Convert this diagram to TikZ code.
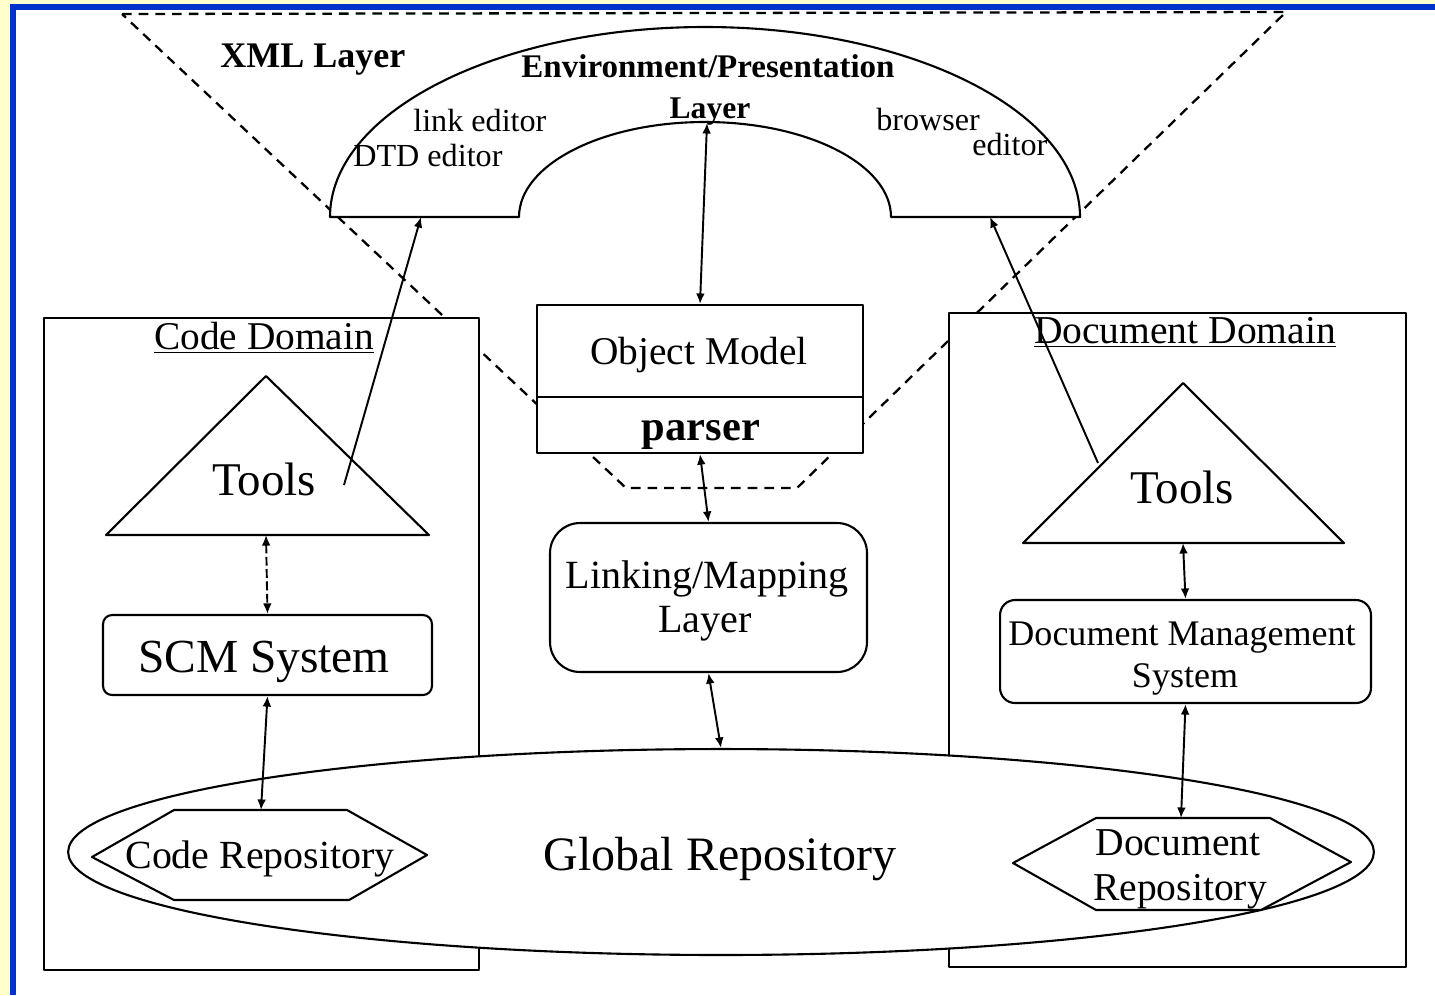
\documentclass[tikz,border=0pt]{standalone}
\usepackage{fontspec}
\setmainfont{Liberation Serif}
\usetikzlibrary{arrows.meta,shapes.geometric}
\definecolor{pagebg}{RGB}{255,255,204}
\definecolor{rimblue}{RGB}{0,51,204}

\begin{document}
\begin{tikzpicture}[x=0.02cm,y=-0.02cm,line join=round,
  outline/.style={draw=black,line width=1.2pt,fill=white},
  plainbox/.style={outline,rectangle,inner sep=0pt},
  roundbox/.style={outline,rectangle,inner sep=0pt,rounded corners=#1},
  twoway/.style={line width=1.1pt,{Latex[length=6pt,width=5pt]}-{Latex[length=6pt,width=5pt]}},
  oneway/.style={line width=1.1pt,-{Latex[length=6pt,width=5pt]}},
  funnel/.style={line width=1.3pt,dash pattern=on 5.5pt off 4pt},
  txt/.style={anchor=base,inner sep=0pt,font=\fontsize{#1}{#1}\selectfont},
  btxt/.style={anchor=base,inner sep=0pt,font=\fontsize{#1}{#1}\selectfont\bfseries},
  wtxt/.style={anchor=base west,inner sep=0pt,font=\fontsize{#1}{#1}\selectfont}
]
% page background and blue rim
\fill[pagebg] (0,0) rectangle (1435,995);
\fill[rimblue] (10,4) rectangle (1435,995);
\fill[white] (16,10) rectangle (1435,995);
\useasboundingbox (0,0) rectangle (1435,995);

% XML layer funnel
\draw[funnel] (122,14) -- (1286,12) -- (797,488) -- (626,488) -- cycle;

% environment / presentation arch
\draw[outline] (330,217) arc[start angle=180,end angle=360,x radius=375,y radius=190]
  -- (891,217) arc[start angle=360,end angle=180,x radius=186,y radius=95] -- cycle;
\coordinate (archL) at (421,217);
\coordinate (archR) at (990,217);
\coordinate (archTop) at (707,123);

% domain frames
\node[plainbox,minimum width=8.7cm,minimum height=13.04cm] (cd) at (261.5,644) {};
\node[plainbox,minimum width=9.14cm,minimum height=13.08cm] (dd) at (1177.5,640) {};

% tool triangles
\draw[outline] (266,376) -- (106,535) -- (429,535) -- cycle;
\draw[outline] (1183,383) -- (1023,543) -- (1344,543) -- cycle;
\coordinate (ctbase) at (266,535);
\coordinate (dtbase) at (1183,543);
\coordinate (ctout) at (344,485);
\coordinate (dtout) at (1098,463);

% system boxes
\node[roundbox=0.18cm,minimum width=6.58cm,minimum height=1.6cm] (scm) at (267.5,655) {};
\node[roundbox=0.3cm,minimum width=7.42cm,minimum height=2.06cm] (dms) at (1185.5,651.5) {};

% object model and parser
\node[plainbox,minimum width=6.52cm,minimum height=1.84cm] (om) at (700,351) {};
\node[plainbox,minimum width=6.52cm,minimum height=1.12cm] (ps) at (700,425) {};

% linking / mapping layer
\node[roundbox=0.6cm,minimum width=6.34cm,minimum height=2.98cm] (lm) at (708.5,597.5) {};

% global repository
\node[outline,ellipse,inner sep=0pt,minimum width=26.12cm,minimum height=4.12cm] (gr) at (721,852) {};

% repositories
\draw[outline] (92,857) -- (174,810) -- (347,810) -- (427,855) -- (349,900) -- (174,900) -- cycle;
\draw[outline] (1013,863) -- (1096,818) -- (1270,818) -- (1351,862) -- (1261,910) -- (1096,910) -- cycle;
\coordinate (crtop) at (261,810);
\coordinate (drtop) at (1181,818);

% labels
\node[wtxt=20.5pt,font=\fontsize{20.5pt}{20.5pt}\selectfont\bfseries] (xmlt) at (220,67) {XML Layer};
\node[btxt=18.8pt] (envt) at (708,77) {Environment/Presentation};
\node[btxt=18pt] (layt) at (710,118) {Layer};
\node[wtxt=18.3pt] (lnkt) at (413,131) {link editor};
\node[wtxt=18.3pt] (dtdt) at (353,166) {DTD editor};
\node[wtxt=18.3pt] (brwt) at (876,130) {browser};
\node[wtxt=18.3pt] (edtt) at (972,155) {editor};
\node[txt=22.4pt] (cdt) at (264,349) {\underline{Code Domain}};
\node[txt=22.5pt] (ddt) at (1185,343) {\underline{Document Domain}};
\node[txt=22.4pt] (omt) at (699,364) {Object Model};
\node[btxt=24.2pt] (pst) at (701,440) {parser};
\node[txt=22.8pt] (lmt1) at (707,588) {Linking/Mapping};
\node[txt=22.8pt] (lmt2) at (705,632) {Layer};
\node[txt=26.7pt] (ctt) at (264,495) {Tools};
\node[txt=26.7pt] (dtt) at (1182,503) {Tools};
\node[txt=27pt] (scmt) at (264,672) {SCM System};
\node[txt=20.5pt] (dmt1) at (1182,645) {Document Management};
\node[txt=20.5pt] (dmt2) at (1185,687) {System};
\node[txt=27.3pt] (grt) at (720,870) {Global Repository};
\node[txt=22.7pt] (crt) at (260,868) {Code Repository};
\node[txt=22.5pt] (drt1) at (1178,855) {Document};
\node[txt=22.5pt] (drt2) at (1180,900) {Repository};

% connectors
\draw[oneway] (ctout) -- (archL);
\draw[oneway] (dtout) -- (archR);
\draw[twoway] (archTop) -- (om.north);
\draw[twoway] (ps.south) -- (lm.north);
\draw[twoway] (lm.south) -- (gr.north);
\draw[twoway,dash pattern=on 5pt off 2pt] (ctbase) -- (scm.north);
\draw[twoway] (scm.south) -- (crtop);
\draw[twoway] (dtbase) -- (dms.north);
\draw[twoway] (dms.south) -- (drtop);
\end{tikzpicture}
\end{document}
